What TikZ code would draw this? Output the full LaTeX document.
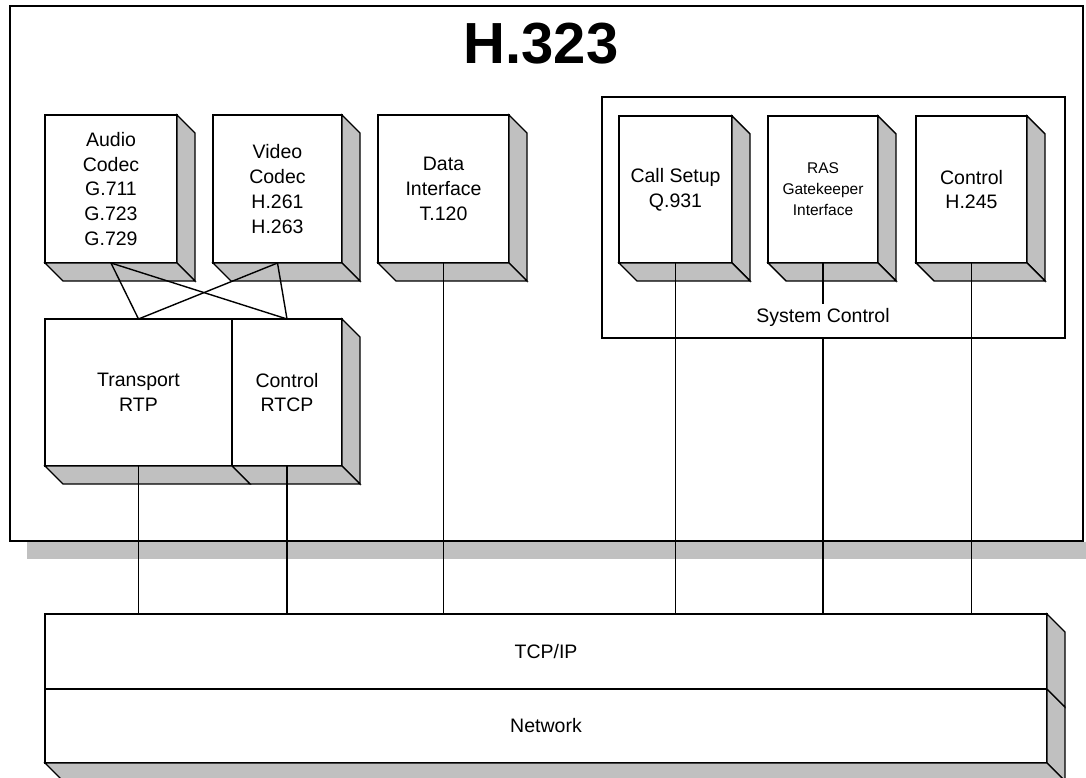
\documentclass[tikz,border=0pt]{standalone}
\usepackage{fontspec}
\setmainfont{Liberation Sans}
\usetikzlibrary{positioning}
\definecolor{facegray}{HTML}{C0C0C0}

\begin{document}
\begin{tikzpicture}[x=1pt, y=-1pt, line width=1.4pt,
  font=\fontsize{19.5}{24.7}\selectfont,
  blk/.style={draw, fill=white, align=center, inner sep=2pt, outer sep=0pt, minimum height=148pt},
  face/.style={draw, fill=facegray, line join=miter}]
\useasboundingbox (0,0) rectangle (1086,778);
\fill[facegray] (27,542) rectangle (1086,559);
\node[draw, fill=white, outer sep=0pt, minimum width=1073pt, minimum height=535pt] (h323) at (546.5,273.5) {};
\node[font=\fontsize{58}{64}\selectfont\bfseries] (title) at (541,44) {H.323};
\node[blk, minimum width=132pt] (audio) at (111,189) {Audio\\Codec\\G.711\\G.723\\G.729};
\node[blk, minimum width=129pt, right=36pt of audio] (video) {Video\\Codec\\H.261\\H.263};
\node[blk, minimum width=131pt, right=36pt of video] (data) {Data\\Interface\\T.120};
\node[blk, minimum width=187pt, minimum height=147pt, below=56pt of audio.south west, anchor=north west] (rtp) {Transport\\RTP};
\node[blk, minimum width=110pt, minimum height=147pt, right=0pt of rtp] (rtcp) {Control\\RTCP};
\node[draw, outer sep=0pt, minimum width=463pt, minimum height=241pt] (sys) at (833.5,217.5) {};
\node[blk, minimum width=113pt, minimum height=147pt] (callsetup) at (675.5,189.5) {Call Setup\\Q.931};
\node[blk, minimum width=110pt, minimum height=147pt, right=36pt of callsetup, font=\fontsize{15.5}{21}\selectfont] (ras) {RAS\\Gatekeeper\\Interface};
\node[blk, minimum width=111pt, minimum height=147pt, right=38pt of ras] (h245) {Control\\H.245};
\node (syslbl) at (823,317) {System Control};
\node[blk, minimum width=1002pt, minimum height=75pt, anchor=north west] (tcpip) at (45,614) {TCP/IP};
\node[blk, minimum width=1002pt, minimum height=74pt, below=0pt of tcpip] (network) {Network};
\foreach \n in {audio,video,data,rtcp,callsetup,ras,h245,network} {
  \draw[face] (\n.north east) -- ++(18,18) -- ([shift={(18,18)}]\n.south east) -- (\n.south east) -- cycle;
  \draw[face] (\n.south west) -- ++(18,18) -- ([shift={(18,18)}]\n.south east) -- (\n.south east) -- cycle;
}
\draw[face] (rtp.south west) -- ++(18,18) -- ([shift={(18,18)}]rtp.south east) -- (rtp.south east) -- cycle;
\draw[face] (tcpip.north east) -- ++(18,18) -- ([shift={(18,18)}]tcpip.south east) -- (tcpip.south east) -- cycle;
\draw (audio.south) -- (rtp.north); \draw (audio.south) -- (rtcp.north);
\draw (video.south) -- (rtp.north); \draw (video.south) -- (rtcp.north);
\foreach \n in {rtp,rtcp,data,callsetup,h245}
  \draw (\n.south) -- (\n.south |- tcpip.north);
\draw (ras.south) -- (syslbl.north);
\draw (ras.south |- sys.south) -- (ras.south |- tcpip.north);
\end{tikzpicture}
\end{document}
